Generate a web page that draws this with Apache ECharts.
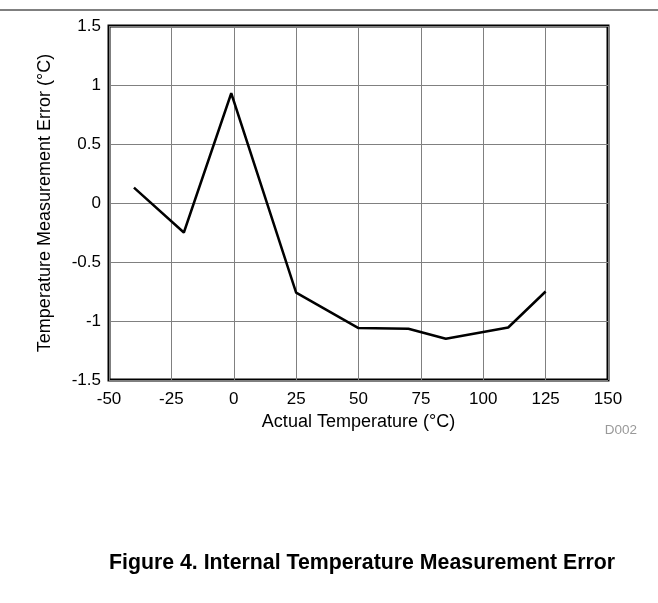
<!DOCTYPE html>
<html>
<head>
<meta charset="utf-8">
<script src="https://cdn.jsdelivr.net/npm/echarts@6/dist/echarts.min.js"></script>
<style>html,body{margin:0;padding:0;background:#fff;}#c{width:658px;height:603px;}</style>
</head>
<body>
<div id="c"></div>
<script>
const temps = [-40, -20, -1, 25, 50, 70, 85, 110, 125];
const errors = [0.13, -0.25, 0.93, -0.76, -1.06, -1.065, -1.15, -1.055, -0.75];
const xTicks = [-50, 150, 25];
const yTicks = [-1.5, 1.5, 0.5];

const chart = echarts.init(document.getElementById('c'), null, {renderer: 'canvas'});
const font = 'Liberation Sans, Arial, sans-serif';
chart.setOption({
  animation: false,
  grid: {left: 109, right: 50, top: 26, bottom: 223, show: true, borderColor: '#000', borderWidth: 3, backgroundColor: 'transparent'},
  xAxis: {
    type: 'value', min: xTicks[0], max: xTicks[1], interval: xTicks[2],
    name: 'Actual Temperature (°C)', nameLocation: 'middle', nameGap: 32,
    nameTextStyle: {color: '#000', fontSize: 18, fontFamily: font},
    axisLine: {show: false}, axisTick: {show: false},
    axisLabel: {color: '#000', fontSize: 17, fontFamily: font, margin: 11},
    splitLine: {show: true, lineStyle: {color: '#808080', width: 1}}
  },
  yAxis: {
    type: 'value', min: yTicks[0], max: yTicks[1], interval: yTicks[2],
    name: 'Temperature Measurement Error (°C)', nameLocation: 'middle', nameGap: 55,
    nameTextStyle: {color: '#000', fontSize: 18, fontFamily: font},
    axisLine: {show: false}, axisTick: {show: false},
    axisLabel: {color: '#000', fontSize: 17, fontFamily: font, margin: 8},
    splitLine: {show: true, lineStyle: {color: '#808080', width: 1}}
  },
  series: [{
    type: 'line', data: temps.map((t, i) => [t, errors[i]]),
    showSymbol: false, symbol: 'none',
    lineStyle: {color: '#000', width: 2.5}
  }],
  graphic: [
    {type: 'line', shape: {x1: 0, y1: 10, x2: 658, y2: 10}, style: {stroke: '#000', lineWidth: 1}},
    {type: 'text', right: 21, top: 423, style: {text: 'D002', fill: '#999', fontSize: 13.5, fontFamily: font}},
    {type: 'text', left: 109, top: 553, style: {text: 'Figure 4. Internal Temperature Measurement Error', fill: '#000', fontSize: 21.3, fontWeight: 'bold', fontFamily: font}}
  ]
});
</script>
</body>
</html>
